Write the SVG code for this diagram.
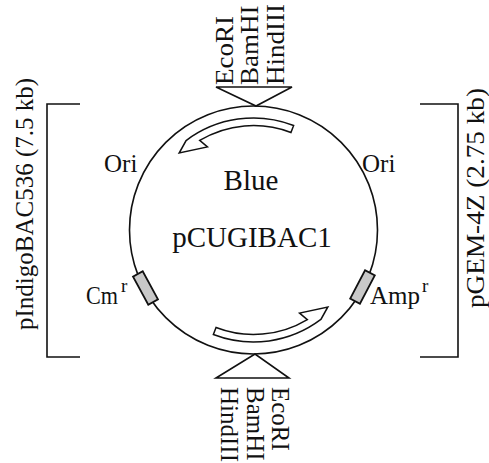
<svg xmlns="http://www.w3.org/2000/svg" width="489" height="463" viewBox="0 0 489 463">
<style>
text{font-family:"Liberation Serif","Times New Roman",serif;font-size:25px;fill:#111}
.big{font-size:29px}
.sup{font-size:19px}
.ln{fill:none;stroke:#111;stroke-width:1.6}
.box{fill:#c8c8c8;stroke:#111;stroke-width:1.8}
.band{fill:#fff;stroke:#111;stroke-width:1.5;stroke-linejoin:miter}
</style>
<defs>
<path id="arrowband" class="band" d="M293.64,125.44 A112,112 0 0 0 186.10,140.56 L179.17,153.03 L207.44,146.91 L199.68,140.42 A104.5,104.5 0 0 1 290.95,132.44 Z"/>
</defs>
<rect width="489" height="463" fill="#fff"/>
<g id="plasmid">
<circle class="ln" cx="253.5" cy="230" r="124"/>
</g>
<g id="arrow-top"><use href="#arrowband"/></g>
<g id="arrow-bottom"><use href="#arrowband" transform="rotate(180 253.5 230)"/></g>
<g id="cmr">
<rect class="box" x="-16" y="-5.5" width="32" height="11" transform="translate(145.5 288) rotate(61.5)"/>
<text x="86" y="304" textLength="32" lengthAdjust="spacingAndGlyphs">Cm</text><text class="sup" x="121" y="292">r</text>
</g>
<g id="ampr">
<rect class="box" x="-16" y="-5.5" width="32" height="11" transform="translate(362.5 287) rotate(117.7)"/>
<text x="370" y="304">Amp</text><text class="sup" x="422" y="292">r</text>
</g>
<g id="ori-left"><text x="104" y="172">Ori</text></g>
<g id="ori-right"><text x="362" y="172">Ori</text></g>
<g id="center-label">
<text class="big" x="251" y="190" text-anchor="middle">Blue</text>
<text class="big" x="252" y="247" text-anchor="middle">pCUGIBAC1</text>
</g>
<g id="site-top">
<polygon class="ln" points="216,87 292,87 256,106"/>
<text transform="translate(233 85) rotate(-90) scale(1.08 1)">EcoRI</text>
<text transform="translate(258 85) rotate(-90) scale(1.08 1)">BamHI</text>
<text transform="translate(284 85) rotate(-90) scale(1.08 1)">HindIII</text>
</g>
<g id="site-bottom">
<polygon class="ln" points="216,378 289,378 255,354"/>
<text transform="translate(272 387) rotate(90)">EcoRI</text>
<text transform="translate(247 387) rotate(90)">BamHI</text>
<text transform="translate(221 387) rotate(90)">HindIII</text>
</g>
<g id="bracket-left">
<path class="ln" d="M80,104 H47 V357 H80"/>
<text transform="translate(33 330) rotate(-90)">pIndigoBAC536 (7.5 kb)</text>
</g>
<g id="bracket-right">
<path class="ln" d="M420,104 H458 V357 H420"/>
<text transform="translate(484 308) rotate(-90) scale(1.09 1)">pGEM-4Z (2.75 kb)</text>
</g>
</svg>
